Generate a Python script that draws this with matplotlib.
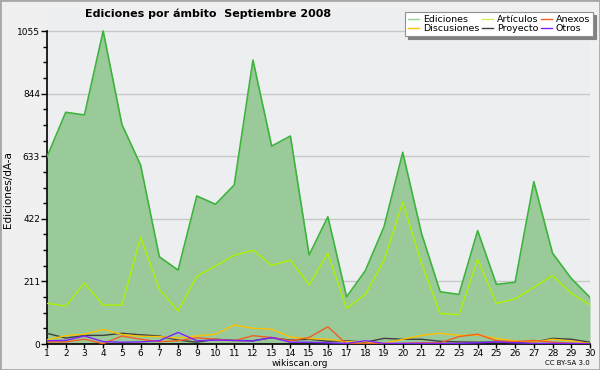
import matplotlib
matplotlib.use("Agg")
import matplotlib.pyplot as plt
from matplotlib.lines import Line2D
from matplotlib.patches import Rectangle
import numpy as np

days = list(range(1, 31))
ediciones = [631, 781, 772, 1055, 740, 603, 294, 249, 499, 471, 536, 957, 667, 701, 300,
             429, 159, 247, 395, 646, 373, 176, 167, 382, 201, 208, 547, 306, 221, 157]
articulos = [137, 128, 205, 131, 131, 360, 185, 111, 228, 263, 299, 316, 265, 283, 199,
             306, 120, 167, 283, 478, 272, 103, 99, 285, 137, 152, 191, 231, 171, 131]
discusiones = [14, 28, 33, 49, 32, 26, 25, 20, 27, 33, 64, 53, 50, 23, 18,
               16, 8, 8, 2, 16, 29, 36, 29, 30, 19, 10, 6, 16, 10, 2]
anexos = [7, 7, 16, 1, 27, 16, 8, 11, 21, 16, 11, 28, 22, 11, 22,
          58, 0, 2, 0, 2, 4, 4, 25, 33, 11, 8, 12, 6, 2, 2]
proyecto = [36, 20, 29, 29, 36, 31, 27, 13, 6, 16, 12, 11, 21, 13, 16,
            9, 11, 6, 19, 16, 16, 9, 7, 6, 7, 7, 6, 19, 16, 6]
otros = [11, 12, 27, 8, 6, 7, 11, 39, 11, 13, 12, 10, 22, 6, 6,
         4, 2, 11, 2, 2, 2, 2, 2, 4, 7, 4, 2, 2, 2, 1]
yticks = [0, 211, 422, 633, 844, 1055]
labels = ["Ediciones", "Discusiones", "Artículos", "Proyecto", "Anexos", "Otros"]

c_ed_line = "#3CB43C"
c_ed_fill = "#9ACA9A"
c_art = "#ADF000"
c_dis = "#FFC000"
c_anx = "#F06020"
c_pro = "#404040"
c_otr = "#8020FF"

plt.rcParams["font.family"] = ["DejaVu Sans"]
fig = plt.figure(figsize=(6, 3.7), dpi=100, facecolor="#F0F0F0")
W, H = 600, 370
ax = fig.add_axes([47 / W, 1 - 344 / H, (590 - 47) / W, (344 - 9) / H])
ax.set_facecolor("#EDEEF0")
top = 1055 * (335 / 313)
ax.set_xlim(1, 30)
ax.set_ylim(0, top)

for y in yticks[1:]:
    ax.axhline(y, color="#C8C8C8", lw=1, zorder=0)

ax.fill_between(days, ediciones, 0, color=c_ed_fill, zorder=1, lw=0)
ax.plot(days, ediciones, color=c_ed_line, lw=1.2, zorder=3)
ax.plot(days, articulos, color=c_art, lw=1.0, zorder=3)
ax.plot(days, proyecto, color=c_pro, lw=1.0, zorder=3)
ax.plot(days, discusiones, color=c_dis, lw=1.0, zorder=3)
ax.plot(days, anexos, color=c_anx, lw=1.0, zorder=3)
ax.plot(days, otros, color=c_otr, lw=1.0, zorder=3)

ax.spines["top"].set_visible(False)
ax.spines["right"].set_visible(False)
ax.spines["left"].set_bounds(0, 1055)
ax.spines["left"].set_linewidth(1.2)
ax.spines["bottom"].set_linewidth(1.2)
ax.set_yticks(yticks)
ax.set_yticklabels([str(v) for v in yticks])
ax.set_yticks(np.arange(0, 1056, 52.75), minor=True)
ax.set_xticks(days)
ax.set_xticklabels([str(d) for d in days])
ax.tick_params(axis="y", labelsize=6.5, length=4, width=1, pad=1, colors="black")
ax.tick_params(axis="x", labelsize=6.5, length=3, width=1, pad=0.5, colors="black")
ax.tick_params(axis="y", which="minor", length=3, width=1)

ax.set_ylabel("Ediciones/dÃ-a", fontsize=7.5)
ax.yaxis.set_label_coords(-34 / 543, (344 - 190) / 335)

fig.text(85 / W, 1 - 14 / H, "Ediciones por ámbito  Septiembre 2008", fontsize=8,
         fontweight="bold", ha="left", va="center")
fig.text(300 / W, 1 - 363 / H, "wikiscan.org", fontsize=6.5, ha="center", va="center")
fig.text(590 / W, 1 - 363 / H, "CC BY-SA 3.0", fontsize=5, ha="right", va="center")

handles = [Line2D([], [], color=c, lw=1) for c in
           ["#90D890", c_dis, "#D0F060", c_pro, c_anx, c_otr]]
leg = ax.legend(handles, labels, ncol=3, loc="upper right",
                bbox_to_anchor=(593 / W, 1 - 12 / H), bbox_transform=fig.transFigure,
                fontsize=6.8, frameon=True, fancybox=False, shadow={"color": "#808080", "alpha": 1},
                handlelength=1.2, handletextpad=0.4, columnspacing=0.25,
                labelspacing=0.05, borderpad=0.3, borderaxespad=0)
leg.get_frame().set_facecolor("white")
leg.get_frame().set_edgecolor("#909090")
leg.get_frame().set_linewidth(0.8)
leg.get_frame().set_alpha(1)

fig.patches.append(Rectangle((0, 0), 1, 1, transform=fig.transFigure, fill=False,
                             edgecolor="#A8A8A8", lw=2, zorder=10))

fig.savefig("out.png", dpi=100, facecolor=fig.get_facecolor())
